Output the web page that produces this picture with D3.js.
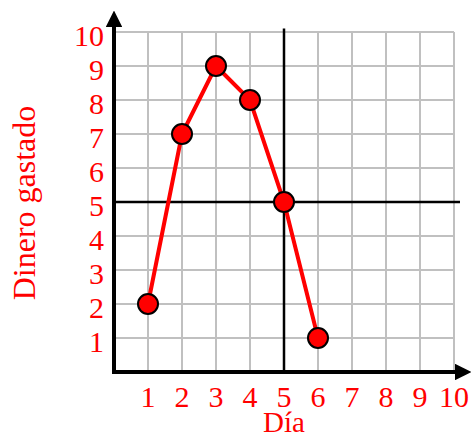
<!DOCTYPE html>
<html>
<head>
<meta charset="utf-8">
<script src="https://cdn.jsdelivr.net/npm/d3@7"></script>
<style>
  body { margin: 0; background: #fff; }
  svg text { font-family: "Liberation Serif", "DejaVu Serif", serif; fill: red; }
</style>
</head>
<body>
<svg id="chart" width="472" height="435"></svg>
<script>
// data
const days = [1, 2, 3, 4, 5, 6];
const spent = [2, 7, 9, 8, 5, 1];
const ticks = [1, 2, 3, 4, 5, 6, 7, 8, 9, 10];
const refX = 5, refY = 5; // the two black crossing lines

const svg = d3.select('#chart');

const x = d3.scaleLinear().domain([0, 10]).range([114, 454]);
const y = d3.scaleLinear().domain([0, 10]).range([372, 32]);

// grey grid
const grid = svg.append('g').attr('stroke', '#c0c0c0').attr('stroke-width', 2);
grid.selectAll('.gv').data(ticks).enter().append('line')
    .attr('x1', d => x(d)).attr('x2', d => x(d))
    .attr('y1', y(10)).attr('y2', y(0));
grid.selectAll('.gh').data(ticks).enter().append('line')
    .attr('x1', x(0)).attr('x2', x(10))
    .attr('y1', d => y(d)).attr('y2', d => y(d));

// black reference lines
svg.append('line').attr('stroke', '#000').attr('stroke-width', 2.5)
    .attr('x1', x(refX)).attr('x2', x(refX)).attr('y1', y(10.1)).attr('y2', y(0));
svg.append('line').attr('stroke', '#000').attr('stroke-width', 2.5)
    .attr('x1', x(0)).attr('x2', 460).attr('y1', y(refY)).attr('y2', y(refY));

// axes with arrows
svg.append('defs').append('marker')
    .attr('id', 'arrow').attr('viewBox', '0 0 10 10')
    .attr('refX', 2).attr('refY', 5)
    .attr('markerWidth', 4.2).attr('markerHeight', 4.2)
    .attr('orient', 'auto')
    .append('path').attr('d', 'M0,0 L10,5 L0,10 Z').attr('fill', '#000');

svg.append('line').attr('stroke', '#000').attr('stroke-width', 4)
    .attr('x1', x(0) - 2).attr('x2', 458).attr('y1', y(0)).attr('y2', y(0))
    .attr('marker-end', 'url(#arrow)');
svg.append('line').attr('stroke', '#000').attr('stroke-width', 4)
    .attr('x1', x(0)).attr('x2', x(0)).attr('y1', y(0) + 2).attr('y2', 24)
    .attr('marker-end', 'url(#arrow)');

// tick labels
svg.selectAll('.xl').data(ticks).enter().append('text')
    .attr('x', d => x(d)).attr('y', 407)
    .attr('text-anchor', 'middle').attr('font-size', 30)
    .text(d => d);
svg.selectAll('.yl').data(ticks).enter().append('text')
    .attr('x', 104).attr('y', d => y(d) + 14)
    .attr('text-anchor', 'end').attr('font-size', 30)
    .text(d => d);

// axis titles
svg.append('text').attr('x', x(5)).attr('y', 432)
    .attr('text-anchor', 'middle').attr('font-size', 29).text('Día');
svg.append('text')
    .attr('transform', 'translate(35,203) rotate(-90)')
    .attr('text-anchor', 'middle').attr('font-size', 32).text('Dinero gastado');

// series
const pts = days.map((d, i) => ({ x: d, y: spent[i] }));
const lineMaker = d3.line().x(d => x(d.x)).y(d => y(d.y));
svg.append('path').attr('d', lineMaker(pts))
    .attr('fill', 'none').attr('stroke', 'red').attr('stroke-width', 4);
svg.selectAll('.pt').data(pts).enter().append('circle')
    .attr('cx', d => x(d.x)).attr('cy', d => y(d.y)).attr('r', 10)
    .attr('fill', 'red').attr('stroke', '#000').attr('stroke-width', 2);
</script>
</body>
</html>
